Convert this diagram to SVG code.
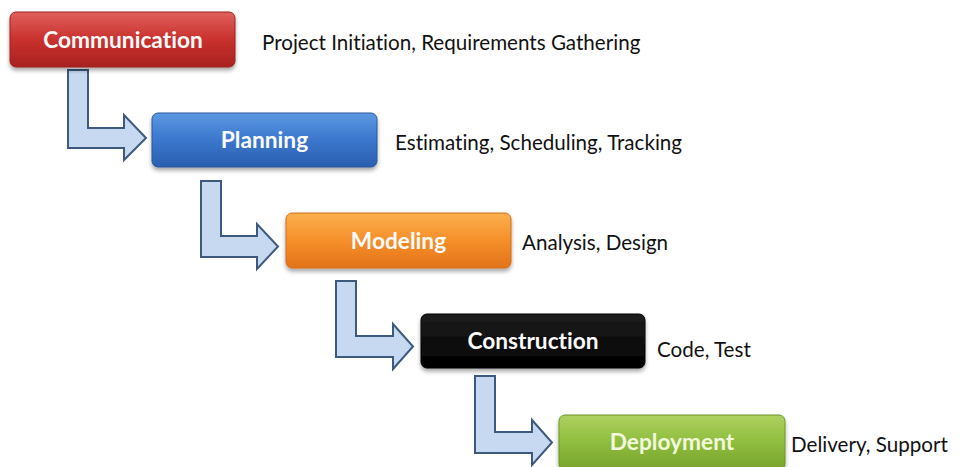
<svg xmlns="http://www.w3.org/2000/svg" width="960" height="467" viewBox="0 0 960 467">
  <defs>
    <linearGradient id="gRed" x1="0" y1="0" x2="0" y2="1">
      <stop offset="0" stop-color="#e0605c"/>
      <stop offset="0.5" stop-color="#c9312e"/>
      <stop offset="1" stop-color="#a9221f"/>
    </linearGradient>
    <linearGradient id="gBlue" x1="0" y1="0" x2="0" y2="1">
      <stop offset="0" stop-color="#5c98e2"/>
      <stop offset="0.5" stop-color="#3b77cd"/>
      <stop offset="1" stop-color="#2a5fb0"/>
    </linearGradient>
    <linearGradient id="gOrange" x1="0" y1="0" x2="0" y2="1">
      <stop offset="0" stop-color="#fbb04e"/>
      <stop offset="0.5" stop-color="#f58f2a"/>
      <stop offset="1" stop-color="#e2731a"/>
    </linearGradient>
    <linearGradient id="gBlack" x1="0" y1="0" x2="0" y2="1">
      <stop offset="0" stop-color="#1e1e1e"/>
      <stop offset="1" stop-color="#000000"/>
    </linearGradient>
    <linearGradient id="gGreen" x1="0" y1="0" x2="0" y2="1">
      <stop offset="0" stop-color="#aed160"/>
      <stop offset="0.5" stop-color="#8fbd3e"/>
      <stop offset="1" stop-color="#76a22b"/>
    </linearGradient>
    <filter id="shadow" x="-10%" y="-20%" width="120%" height="160%">
      <feGaussianBlur in="SourceAlpha" stdDeviation="2"/>
      <feOffset dx="0" dy="3" result="b"/>
      <feComponentTransfer><feFuncA type="linear" slope="0.35"/></feComponentTransfer>
      <feMerge><feMergeNode/><feMergeNode in="SourceGraphic"/></feMerge>
    </filter>
  </defs>
  <style>
    .box { filter: url(#shadow); }
    .title { font-family: Lato, "Liberation Sans", sans-serif; font-weight: bold; font-size: 22.7px; fill: #fbfbfb; text-anchor: middle; font-variant-ligatures: none; }
    .desc { font-family: Lato, "Liberation Sans", sans-serif; font-size: 20.6px; fill: #111111; font-variant-ligatures: none; }
    .arrow { fill: #c7d9f1; stroke: #3d5a7e; stroke-width: 2; stroke-linejoin: miter; }
  </style>
  <rect width="960" height="467" fill="#ffffff"/>

  <g id="connectors">
    <polygon class="arrow" points="68,70 88,70 88,128 124,128 124,115 146,138 124,160 124,148 68,148"/>
    <polygon class="arrow" points="201,181 221,181 221,236 257,236 257,224 278,246.5 257,269 257,257 201,257"/>
    <polygon class="arrow" points="336,281 356,281 356,336 393,336 393,324 413,346.5 393,369 393,357 336,357"/>
    <polygon class="arrow" points="475,376 495,376 495,432 532,432 532,420 552,442.5 532,465 532,453 475,453"/>
  </g>

  <g id="communication">
    <rect class="box" x="10" y="12" width="225" height="55" rx="6" fill="url(#gRed)" stroke="#9a2320" stroke-width="1"/>
    <text class="title" x="123" y="48">Communication</text>
    <text class="desc" x="262" y="50">Project Initiation, Requirements Gathering</text>
  </g>

  <g id="planning">
    <rect class="box" x="152" y="113" width="225" height="54" rx="6" fill="url(#gBlue)" stroke="#2a5699" stroke-width="1"/>
    <text class="title" x="264.5" y="148">Planning</text>
    <text class="desc" x="395" y="150">Estimating, Scheduling, Tracking</text>
  </g>

  <g id="modeling">
    <rect class="box" x="286" y="213" width="225" height="55" rx="6" fill="url(#gOrange)" stroke="#d46e18" stroke-width="1"/>
    <text class="title" x="398.5" y="249">Modeling</text>
    <text class="desc" x="522" y="250">Analysis, Design</text>
  </g>

  <g id="construction">
    <rect class="box" x="421" y="314" width="224" height="54" rx="6" fill="url(#gBlack)" stroke="#000000" stroke-width="1"/>
    <text class="title" x="533" y="349">Construction</text>
    <text class="desc" x="657" y="357">Code, Test</text>
  </g>

  <g id="deployment">
    <rect class="box" x="559" y="415" width="226" height="55" rx="6" fill="url(#gGreen)" stroke="#6c9527" stroke-width="1"/>
    <text class="title" x="672" y="450" style="fill:#f1f8dc">Deployment</text>
    <text class="desc" x="791" y="452">Delivery, Support</text>
  </g>
</svg>
